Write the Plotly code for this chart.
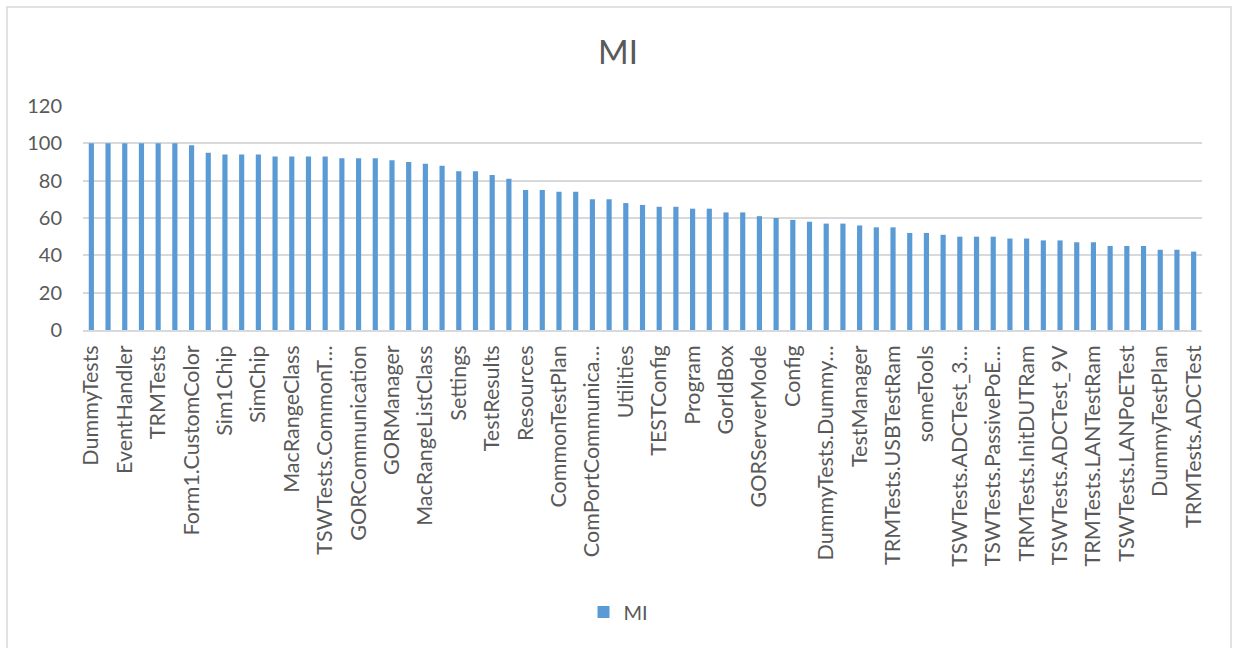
import plotly.graph_objects as go

# Maintainability index per class/module, sorted descending
mi_values = [100, 100, 100, 100, 100, 100, 99, 95, 94, 94, 94, 93, 93, 93, 93,
             92, 92, 92, 91, 90, 89, 88, 85, 85, 83, 81, 75, 75, 74, 74, 70, 70,
             68, 67, 66, 66, 65, 65, 63, 63, 61, 60, 59, 58, 57, 57, 56, 55, 55,
             52, 52, 51, 50, 50, 50, 49, 49, 48, 48, 47, 47, 45, 45, 45, 43, 43, 42]

# Category labels shown on the axis (every second class)
tick_labels = ["DummyTests", "EventHandler", "TRMTests", "Form1.CustomColor",
               "Sim1Chip", "SimChip", "MacRangeClass", "TSWTests.CommonT…",
               "GORCommunication", "GORManager", "MacRangeListClass", "Settings",
               "TestResults", "Resources", "CommonTestPlan", "ComPortCommunica…",
               "Utilities", "TESTConfig", "Program", "GorIdBox", "GORServerMode",
               "Config", "DummyTests.Dummy…", "TestManager", "TRMTests.USBTestRam",
               "someTools", "TSWTests.ADCTest_3…", "TSWTests.PassivePoE…",
               "TRMTests.InitDUTRam", "TSWTests.ADCTest_9V", "TRMTests.LANTestRam",
               "TSWTests.LANPoETest", "DummyTestPlan", "TRMTests.ADCTest"]

y_ticks = [0, 20, 40, 60, 80, 100, 120]

positions = list(range(len(mi_values)))
tick_positions = positions[::2]

TEXT = "#595959"
GRID = "#d9d9d9"
FONT = "Lato, Open Sans, sans-serif"

fig = go.Figure()
fig.add_trace(go.Bar(
    x=positions, y=mi_values, name="MI",
    marker=dict(color="#5b9bd5", line=dict(width=0)),
    showlegend=True,
))

W, H = 1236, 648
ml, mr, mt, mb = 83, 34, 106, 318
pw = W - ml - mr
ph = H - mt - mb

fig.update_layout(
    width=W, height=H,
    margin=dict(l=ml, r=mr, t=mt, b=mb, autoexpand=False),
    paper_bgcolor="white", plot_bgcolor="white",
    font=dict(family=FONT, color=TEXT, size=20),
    bargap=0.69,
    title=dict(text="MI", x=0.5, xanchor="center", y=1 - 52 / H, yanchor="middle",
               font=dict(size=33, color=TEXT, family=FONT)),
    legend=dict(orientation="h", x=0.5 - 24 / pw, xanchor="center",
                y=-(612 - (H - mb)) / ph,
                yanchor="middle", font=dict(size=20, color=TEXT), itemwidth=30,
                bgcolor="rgba(0,0,0,0)"),
    xaxis=dict(
        range=[-0.5, len(mi_values) - 0.5],
        tickmode="array", tickvals=tick_positions, ticktext=tick_labels,
        tickangle=-90, tickfont=dict(size=21.5, color=TEXT),
        showgrid=False, zeroline=False,
        showline=True, linecolor=GRID, linewidth=1.5,
        ticks="", ticklabelstandoff=5,
    ),
    yaxis=dict(
        range=[0, 120], tickmode="array", tickvals=y_ticks,
        tickfont=dict(size=20, color=TEXT),
        showgrid=True, gridcolor=GRID, gridwidth=1.5,
        zeroline=False, showline=False, ticks="", ticklabelstandoff=20,
    ),
)

# Chart-area frame
fig.add_shape(type="rect", xref="paper", yref="paper",
              x0=(7 - ml) / pw, x1=(1231 - ml) / pw,
              y0=(H - 660 - mb) / ph, y1=(H - 7 - mb) / ph,
              line=dict(color=GRID, width=1.5), fillcolor="rgba(0,0,0,0)", layer="below")

fig.write_html("out.html")
